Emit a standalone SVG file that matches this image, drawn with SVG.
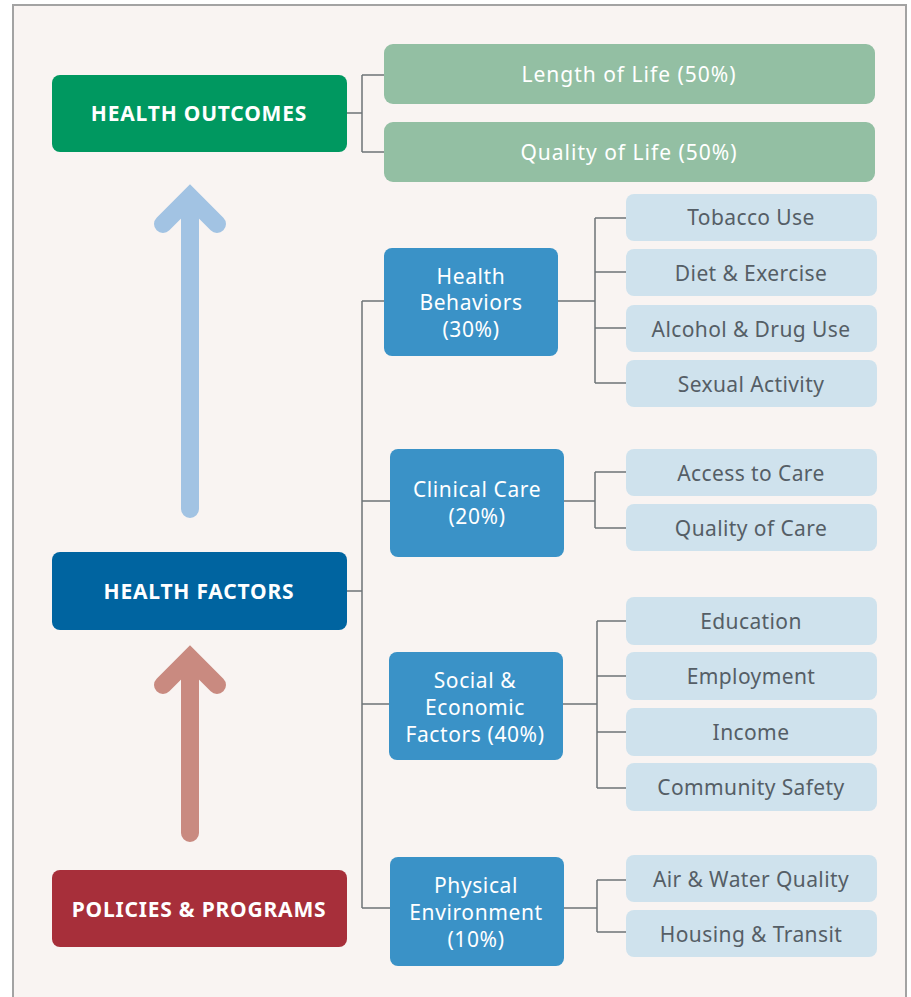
<svg xmlns="http://www.w3.org/2000/svg" width="911" height="997" viewBox="0 0 911 997">
<style>
text{font-family:"Noto Sans","Open Sans","DejaVu Sans",sans-serif;text-anchor:middle;dominant-baseline:central;font-size:21px}
.hdr{font-weight:bold;fill:#fff;letter-spacing:0.8px}
.out{fill:#93bfa3}
.outt{fill:#fff;letter-spacing:1px}
.mid{fill:#3a92c7}
.midt{fill:#fff;letter-spacing:0.6px}
.leaf{fill:#cfe2ed}
.leaft{fill:#555e66;letter-spacing:0.4px}
.conn{fill:none;stroke:#6e7377;stroke-width:1.5}
.arr{fill:none;stroke-width:18;stroke-linecap:round}
</style>
<rect x="13" y="5" width="893" height="1000" fill="#f9f4f2" stroke="#a3a3a3" stroke-width="2"/>
<g id="connectors">
<path class="conn" d="M347 113H362M362 75V152M362 75H384M362 152H384"/>
<path class="conn" d="M347 591H362M362 301V908M362 301H384M362 501H390M362 704H389M362 908H390"/>
<path class="conn" d="M558 301H595M595 218V383M595 218H626M595 272H626M595 328H626M595 383H626"/>
<path class="conn" d="M564 501H595M595 472V528M595 472H626M595 528H626"/>
<path class="conn" d="M563 704H597M597 621V788M597 621H626M597 676H626M597 732H626M597 788H626"/>
<path class="conn" d="M564 908H597M597 880V932M597 880H626M597 932H626"/>
<path class="arr" stroke="#a2c3e3" d="M190 509V200M163 224L190 197L217 224"/>
<path class="arr" stroke="#c98a80" d="M190 833V662M163 685L190 658L217 685"/>
</g>
<g id="health-outcomes"><rect x="52" y="75" width="295" height="77" rx="8" fill="#009860"/><text class="hdr" x="199" y="113">HEALTH OUTCOMES</text></g>
<g id="length-of-life"><rect class="out" x="384" y="44" width="491" height="60" rx="9"/><text class="outt" x="629" y="74">Length of Life (50%)</text></g>
<g id="quality-of-life"><rect class="out" x="384" y="122" width="491" height="60" rx="9"/><text class="outt" x="629" y="152">Quality of Life (50%)</text></g>
<g id="health-factors"><rect x="52" y="552" width="295" height="78" rx="8" fill="#0064a0"/><text class="hdr" x="199" y="591">HEALTH FACTORS</text></g>
<g id="policies-programs"><rect x="52" y="870" width="295" height="77" rx="8" fill="#a72f3a"/><text class="hdr" x="199" y="909">POLICIES &amp; PROGRAMS</text></g>
<g id="health-behaviors"><rect class="mid" x="384" y="248" width="174" height="108" rx="8"/><text class="midt" x="471" y="276">Health</text><text class="midt" x="471" y="302">Behaviors</text><text class="midt" x="471" y="329">(30%)</text></g>
<g id="clinical-care"><rect class="mid" x="390" y="449" width="174" height="108" rx="8"/><text class="midt" x="477" y="489">Clinical Care</text><text class="midt" x="477" y="516">(20%)</text></g>
<g id="social-economic"><rect class="mid" x="389" y="652" width="174" height="108" rx="8"/><text class="midt" x="475" y="680">Social &amp;</text><text class="midt" x="475" y="707">Economic</text><text class="midt" x="475" y="734">Factors (40%)</text></g>
<g id="physical-environment"><rect class="mid" x="390" y="857" width="174" height="109" rx="8"/><text class="midt" x="476" y="885">Physical</text><text class="midt" x="476" y="912">Environment</text><text class="midt" x="476" y="939">(10%)</text></g>
<g id="tobacco-use"><rect class="leaf" x="626" y="194" width="251" height="47" rx="8"/><text class="leaft" x="751" y="217">Tobacco Use</text></g>
<g id="diet-exercise"><rect class="leaf" x="626" y="249" width="251" height="47" rx="8"/><text class="leaft" x="751" y="273">Diet &amp; Exercise</text></g>
<g id="alcohol-drug-use"><rect class="leaf" x="626" y="305" width="251" height="47" rx="8"/><text class="leaft" x="751" y="329">Alcohol &amp; Drug Use</text></g>
<g id="sexual-activity"><rect class="leaf" x="626" y="360" width="251" height="47" rx="8"/><text class="leaft" x="751" y="384">Sexual Activity</text></g>
<g id="access-to-care"><rect class="leaf" x="626" y="449" width="251" height="47" rx="8"/><text class="leaft" x="751" y="473">Access to Care</text></g>
<g id="quality-of-care"><rect class="leaf" x="626" y="504" width="251" height="47" rx="8"/><text class="leaft" x="751" y="528">Quality of Care</text></g>
<g id="education"><rect class="leaf" x="626" y="597" width="251" height="48" rx="8"/><text class="leaft" x="751" y="621">Education</text></g>
<g id="employment"><rect class="leaf" x="626" y="652" width="251" height="48" rx="8"/><text class="leaft" x="751" y="676">Employment</text></g>
<g id="income"><rect class="leaf" x="626" y="708" width="251" height="48" rx="8"/><text class="leaft" x="751" y="732">Income</text></g>
<g id="community-safety"><rect class="leaf" x="626" y="763" width="251" height="48" rx="8"/><text class="leaft" x="751" y="787">Community Safety</text></g>
<g id="air-water-quality"><rect class="leaf" x="626" y="855" width="251" height="47" rx="8"/><text class="leaft" x="751" y="879">Air &amp; Water Quality</text></g>
<g id="housing-transit"><rect class="leaf" x="626" y="910" width="251" height="47" rx="8"/><text class="leaft" x="751" y="934">Housing &amp; Transit</text></g>
</svg>
